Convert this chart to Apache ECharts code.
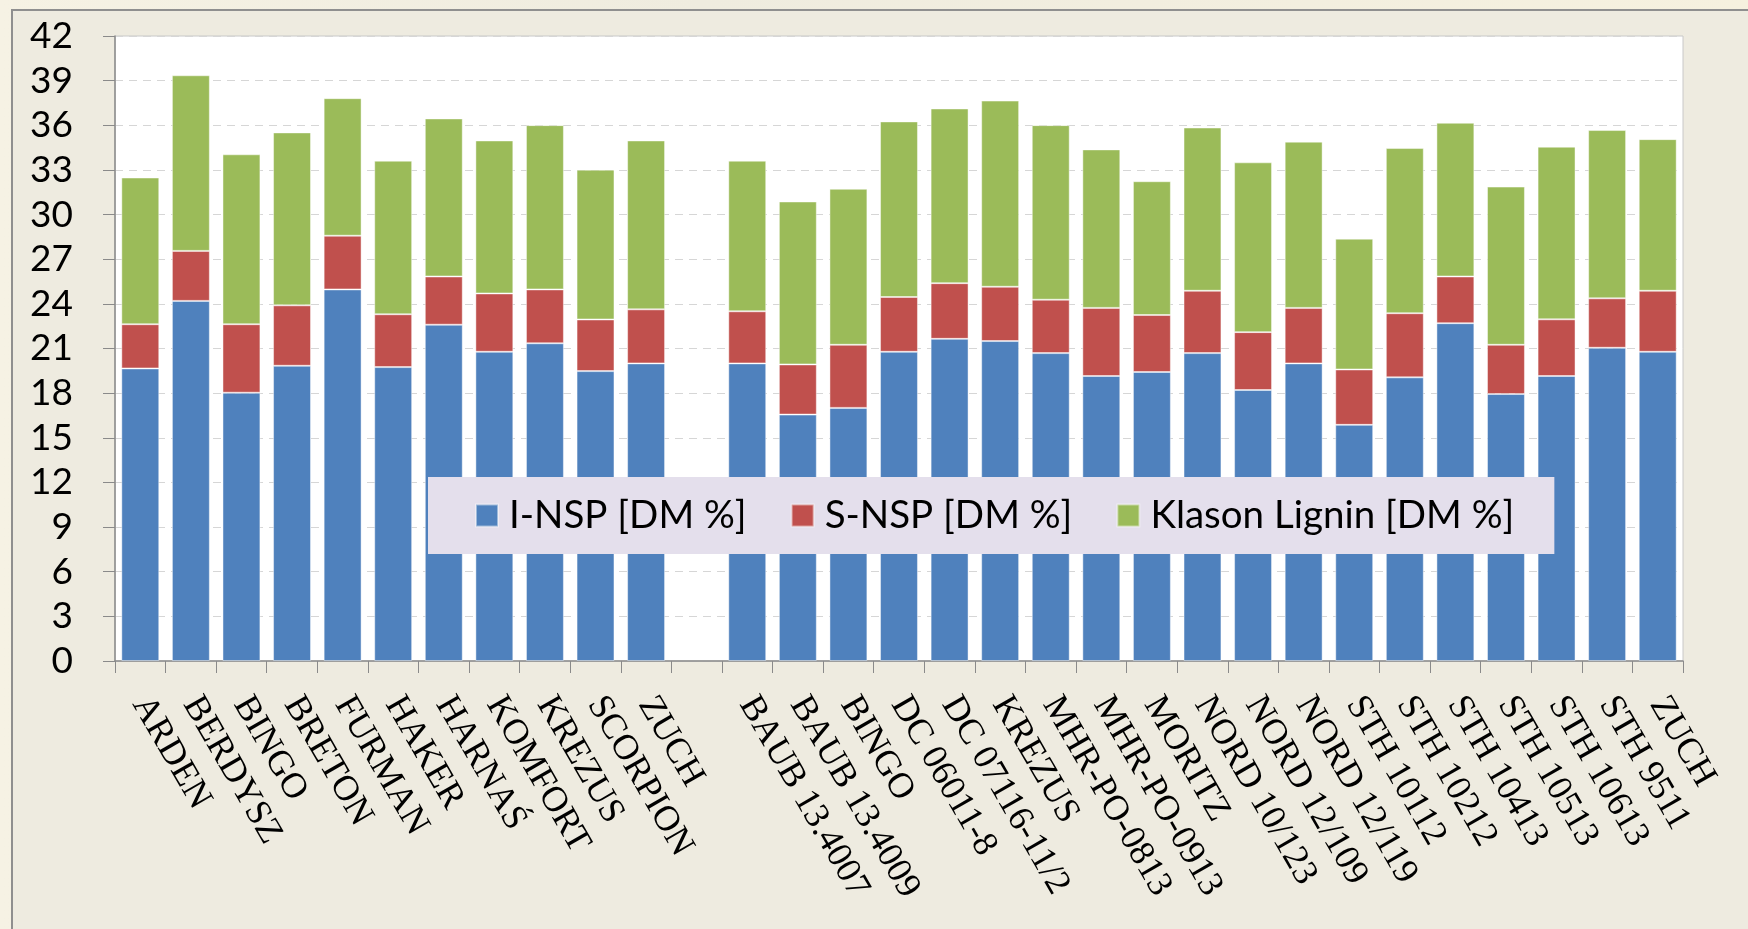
<!DOCTYPE html>
<html>
<head>
<meta charset="utf-8">
<script src="https://cdn.jsdelivr.net/npm/echarts@6/dist/echarts.min.js"></script>
<style>
  html, body { margin: 0; padding: 0; width: 1748px; height: 929px; overflow: hidden;
    background: linear-gradient(90deg, #f6f2e4 0%, #efecdf 40%, #f6f1df 100%); }
  #frame { position: absolute; left: 11px; top: 9px; width: 1737px; height: 920px;
    background: #EEEBE0; border-left: 2px solid #8f8f8f; border-top: 2px solid #8f8f8f; box-sizing: border-box; }
  #chart { position: absolute; left: 0; top: 0; width: 1748px; height: 929px; }
</style>
</head>
<body>
<div id="frame"></div>
<div id="chart"></div>
<script>
const categories = ['ARDEN','BERDYSZ','BINGO','BRETON','FURMAN','HAKER','HARNAŚ','KOMFORT','KREZUS','SCORPION','ZUCH',
  '',
  'BAUB 13.4007','BAUB 13.4009','BINGO','DC 06011-8','DC 07116-11/2','KREZUS','MHR-PO-0813','MHR-PO-0913','MORITZ',
  'NORD 10/123','NORD 12/109','NORD 12/119','STH 10112','STH 10212','STH 10413','STH 10513','STH 10613','STH 9511','ZUCH'];
const iNSP = [19.66,24.2,18.03,19.84,24.97,19.75,22.6,20.78,21.35,19.48,20.0,
  '-',
  20.0,16.56,17.01,20.78,21.65,21.5,20.69,19.15,19.42,20.69,18.21,20.0,15.87,19.06,22.7,17.94,19.15,21.05,20.78];
const sNSP = [2.97,3.36,4.6,4.06,3.61,3.55,3.24,3.92,3.62,3.47,3.63,
  '-',
  3.5,3.37,4.24,3.68,3.74,3.65,3.59,4.58,3.83,4.19,3.89,3.73,3.72,4.31,3.14,3.31,3.81,3.32,4.1];
const kLignin = [9.86,11.8,11.42,11.62,9.24,10.32,10.62,10.28,11.04,10.07,11.35,
  '-',
  10.12,10.95,10.48,11.8,11.74,12.51,11.73,10.65,8.99,10.97,11.41,11.17,8.79,11.1,10.33,10.63,11.6,11.31,10.19];
const seriesNames = ['I-NSP [DM %]','S-NSP [DM %]','Klason Lignin [DM %]'];
const colors = ['#4F81BD','#C0504D','#9BBB59'];

const chart = echarts.init(document.getElementById('chart'));
const mk = (name, data, color) => ({
  name, type: 'bar', stack: 'total', data,
  barCategoryGap: '25%',
  itemStyle: { color, borderColor: 'rgba(255,255,255,0.45)', borderWidth: 1 }
});
chart.setOption({
  animation: false,
  color: colors,
  grid: { left: 115, right: 65, top: 36, bottom: 268, show: true, backgroundColor: '#ffffff', borderColor: '#c8c8c8', borderWidth: 1 },
  legend: {
    left: 428, top: 477,
    backgroundColor: '#E4DFEC',
    padding: [19, 40, 19, 47],
    itemGap: 44,
    itemWidth: 22, itemHeight: 22,
    icon: 'rect',
    textStyle: { fontFamily: 'Lato', fontSize: 38.5, color: '#000', padding: [0, 0, 0, 6] },
    data: seriesNames
  },
  xAxis: {
    type: 'category',
    data: categories,
    axisLine: { lineStyle: { color: '#8a8a8a', width: 1.5 } },
    axisTick: { show: true, length: 12, interval: 0, lineStyle: { color: '#8a8a8a' } },
    axisLabel: { interval: 0, rotate: -60, margin: 38, fontFamily: 'Liberation Serif', fontSize: 36, color: '#000' }
  },
  yAxis: {
    type: 'value', min: 0, max: 42, interval: 3,
    axisLine: { show: true, lineStyle: { color: '#8a8a8a', width: 1.5 } },
    axisTick: { show: true, length: 12, lineStyle: { color: '#8a8a8a' } },
    axisLabel: { fontFamily: 'Lato', fontSize: 37, color: '#000', margin: 42 },
    splitLine: { lineStyle: { color: '#d6d6d6', type: [8, 6] } }
  },
  series: [mk(seriesNames[0], iNSP, colors[0]), mk(seriesNames[1], sNSP, colors[1]), mk(seriesNames[2], kLignin, colors[2])]
});
</script>
</body>
</html>
